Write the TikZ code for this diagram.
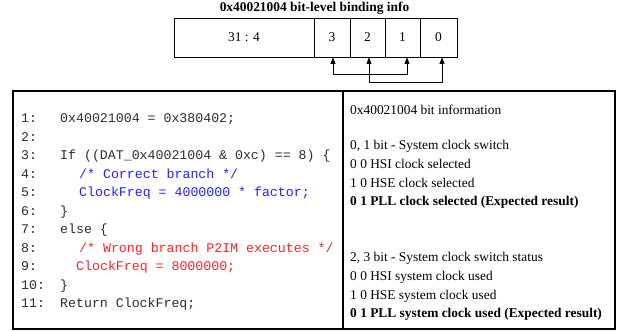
\documentclass[tikz,border=0pt]{standalone}
\usepackage{fontspec}
\setmainfont{Liberation Serif}
\newfontfamily\codefont{Liberation Mono}
\usetikzlibrary{arrows.meta}
\definecolor{codeblue}{RGB}{35,35,255}
\definecolor{codered}{RGB}{255,35,35}
\definecolor{codeblack}{RGB}{45,45,45}
\begin{document}
\begin{tikzpicture}[x=1pt,y=-1pt,
  cell/.style={draw, line width=0.9pt, minimum height=39pt, inner sep=0pt, font=\fontsize{13.4}{16}\selectfont},
  panel/.style={draw, line width=1.1pt, inner sep=0pt},
  codeline/.style={anchor=base west, inner sep=0pt, text=codeblack, font=\codefont\fontsize{13.25}{16}\selectfont},
  infoline/.style={anchor=base west, inner sep=0pt, font=\fontsize{13.4}{16}\selectfont},
  bitarrow/.style={{Triangle[length=6.5pt,width=5pt]}-{Triangle[length=6.5pt,width=5pt]}, line width=0.9pt}]
\useasboundingbox (0,0) rectangle (619,332);
% title
\node[inner sep=0pt, font=\bfseries\fontsize{13.4}{16}\selectfont] (title) at (314.5,8) {0x40021004 bit-level binding info};
% register cells
\node[cell, minimum width=140pt] (c31) at (244,37.5) {31 : 4};
\node[cell, minimum width=36pt] (c3) at (332,37.5) {3};
\node[cell, minimum width=35pt] (c2) at (367.5,37.5) {2};
\node[cell, minimum width=35pt] (c1) at (402.5,37.5) {1};
\node[cell, minimum width=37pt] (c0) at (438.5,37.5) {0};
% bracket arrows
\draw[bitarrow] ([xshift=1pt]c3.south) -- ++(0,17) -| ([xshift=4.5pt]c1.south);
\draw[bitarrow] ([xshift=1.5pt]c2.south) -- ++(0,25) -| ([xshift=3.5pt]c0.south);
% panels
\node[panel, minimum width=330pt, minimum height=238pt] (code) at (178,210) {};
\node[panel, minimum width=272pt, minimum height=238pt] (info) at (479,210) {};
% code lines
\foreach \n [count=\i] in {1:,2:,3:,4:,5:,6:,7:,8:,9:,10:,11:}
  \node[codeline] (num\i) at (21,{122.5+18.5*(\i-1)}) {\n};
\node[codeline] (l1) at (60,122.5) {0x40021004 = 0x380402;};
\node[codeline] (l3) at (60,159.5) {If ((DAT\_0x40021004 \& 0xc) == 8) \{};
\node[codeline, text=codeblue] (l4) at (79,178) {/* Correct branch */};
\node[codeline, text=codeblue] (l5) at (79,196.5) {ClockFreq = 4000000 * factor;};
\node[codeline] (l6) at (60,215) {\}};
\node[codeline] (l7) at (60,233.5) {else \{};
\node[codeline, text=codered] (l8) at (79,252) {/* Wrong branch P2IM executes */};
\node[codeline, text=codered] (l9) at (76,270.5) {ClockFreq = 8000000;};
\node[codeline] (l10) at (60,289) {\}};
\node[codeline] (l11) at (60,307.5) {Return ClockFreq;};
% info lines
\node[infoline] (i1) at (350,114.5) {0x40021004 bit information};
\node[infoline] (i2) at (350,149.5) {0, 1 bit - System clock switch};
\node[infoline] (i3) at (350,168.3) {0 0 HSI clock selected};
\node[infoline] (i4) at (350,187.1) {1 0 HSE clock selected};
\node[infoline, font=\bfseries\fontsize{13.4}{16}\selectfont] (i5) at (350,205.9) {0 1 PLL clock selected (Expected result)};
\node[infoline] (i6) at (350,261.5) {2, 3 bit - System clock switch status};
\node[infoline] (i7) at (350,280.3) {0 0 HSI system clock used};
\node[infoline] (i8) at (350,299.1) {1 0 HSE system clock used};
\node[infoline, font=\bfseries\fontsize{13.4}{16}\selectfont] (i9) at (350,317.9) {0 1 PLL system clock used (Expected result)};
\end{tikzpicture}
\end{document}
